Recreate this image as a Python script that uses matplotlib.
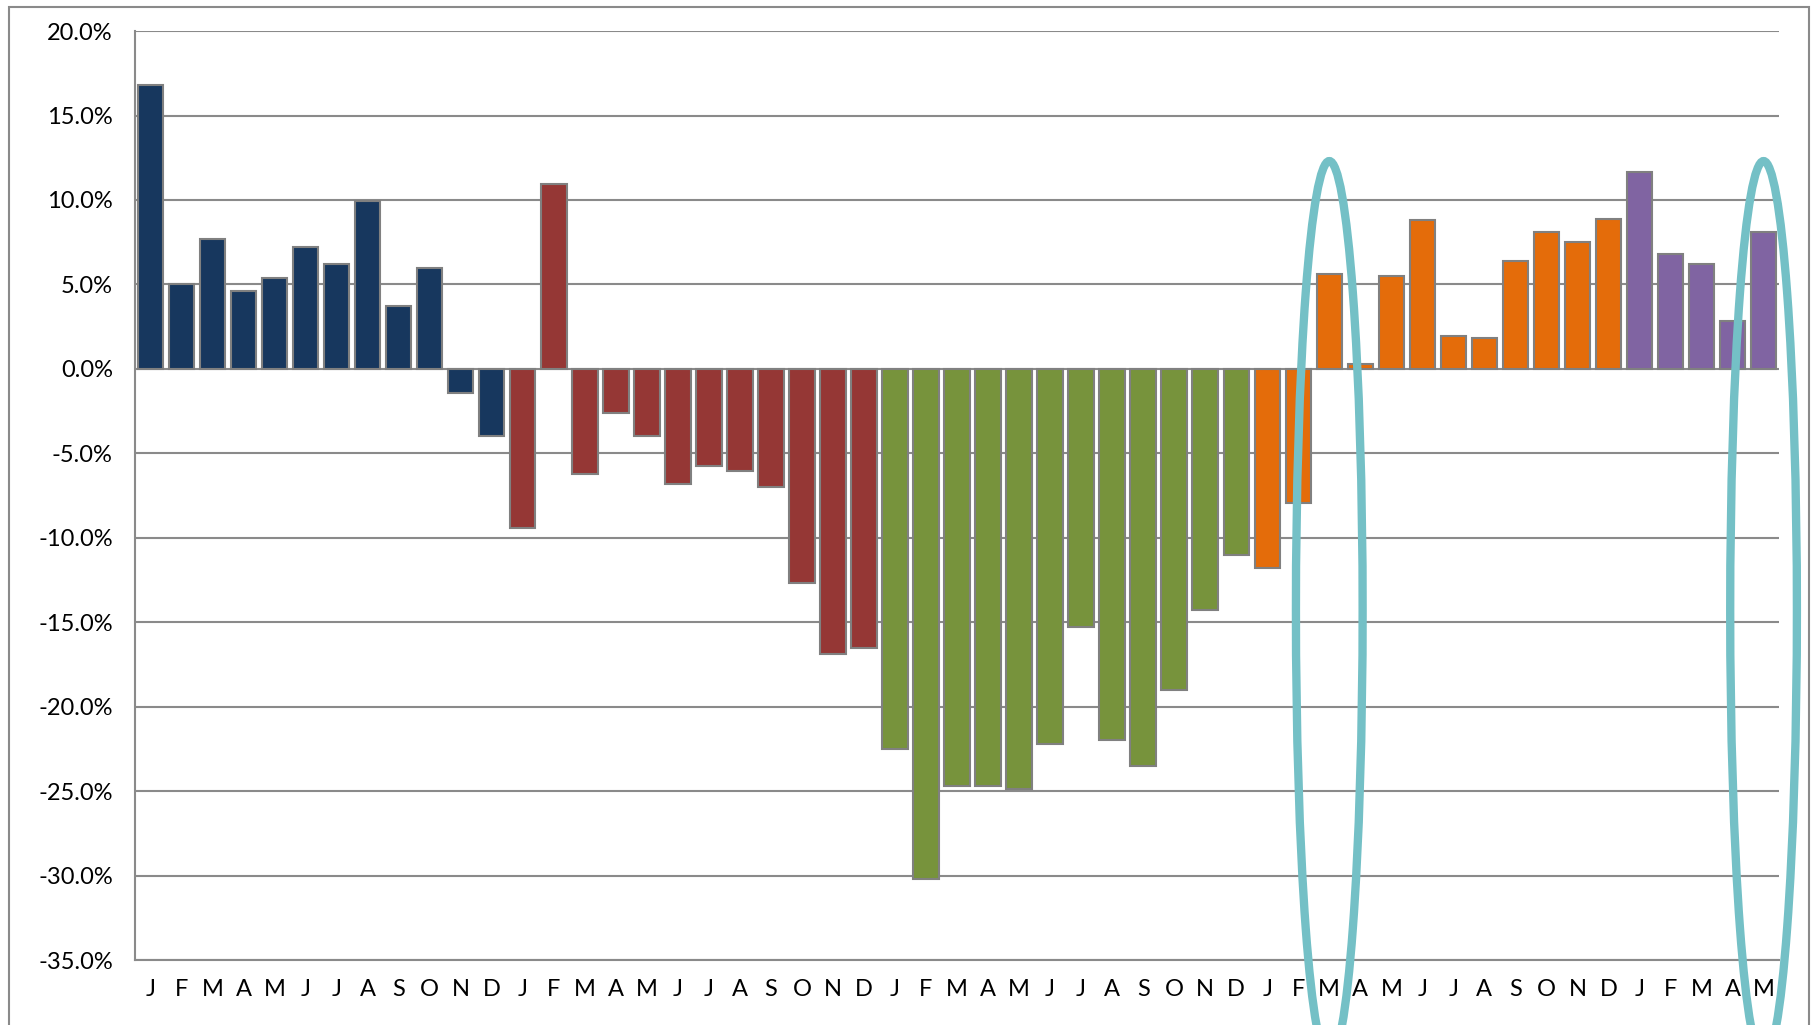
import matplotlib.pyplot as plt
from matplotlib.patches import Ellipse, Rectangle
from matplotlib.ticker import FuncFormatter

plt.rcParams['font.family'] = ['Lato', 'DejaVu Sans']

# monthly change, in %, five consecutive years (last year only Jan-May)
months = ["J", "F", "M", "A", "M", "J", "J", "A", "S", "O", "N", "D"]
year1 = [16.8, 5.0, 7.7, 4.6, 5.4, 7.2, 6.2, 9.95, 3.7, 6.0, -1.4, -4.0]
year2 = [-9.4, 10.95, -6.2, -2.6, -3.95, -6.8, -5.75, -6.05, -7.0, -12.65, -16.9, -16.5]
year3 = [-22.5, -30.2, -24.7, -24.7, -24.9, -22.2, -15.3, -22.0, -23.5, -19.0, -14.3, -11.05]
year4 = [-11.8, -7.95, 5.6, 0.3, 5.5, 8.8, 1.95, 1.8, 6.4, 8.1, 7.5, 8.9]
year5 = [11.65, 6.8, 6.2, 2.85, 8.1]

series = [year1, year2, year3, year4, year5]
colors = ["#17375E", "#953735", "#77933C", "#E46C0A", "#8064A2"]

# bars that get circled (year 4 March, year 5 May)
highlight = [(3, 2), (4, 4)]

fig = plt.figure(figsize=(18.15, 10.25), dpi=100)
ax = fig.add_axes([0.0744, 0.0634, 0.9058, 0.9063])

labels = []
starts = []
pos = 0
for vals, c in zip(series, colors):
    starts.append(pos)
    xs = list(range(pos, pos + len(vals)))
    ax.bar(xs, vals, width=0.82, color=c, edgecolor="#808080",
           linewidth=1.5, zorder=3)
    labels += months[:len(vals)]
    pos += len(vals)

ax.set_xlim(-0.5, pos - 0.5)
ax.set_ylim(-35, 20)
ax.set_yticks(range(-35, 21, 5))
ax.yaxis.set_major_formatter(FuncFormatter(lambda v, p: f"{v:.1f}%"))
ax.set_xticks(range(pos))
ax.set_xticklabels(labels)

ax.grid(axis="y", color="#8a8a8a", linewidth=1.5, zorder=0)
ax.set_axisbelow(True)
for s in ["top", "right"]:
    ax.spines[s].set_visible(False)
for s in ["left", "bottom"]:
    ax.spines[s].set_color("#8a8a8a")
    ax.spines[s].set_linewidth(1.5)
ax.tick_params(axis="both", length=0, labelsize=17, colors="black")
ax.tick_params(axis="y", pad=16)
ax.tick_params(axis="x", pad=14)

# teal rings around the highlighted months
for yr, m in highlight:
    idx = starts[yr] + m
    ax.add_patch(Ellipse((idx, -14.3), 2.15, 53.2, fill=False,
                         edgecolor="#74C0C6", linewidth=6, zorder=5,
                         clip_on=False))

# outer chart frame
fig.patches.append(Rectangle((9 / 1815, -0.2), 1800 / 1815, 1.2 - 7 / 1025,
                             transform=fig.transFigure, fill=False,
                             edgecolor="#8a8a8a", linewidth=1.5))

fig.savefig("out.png", dpi=100)
